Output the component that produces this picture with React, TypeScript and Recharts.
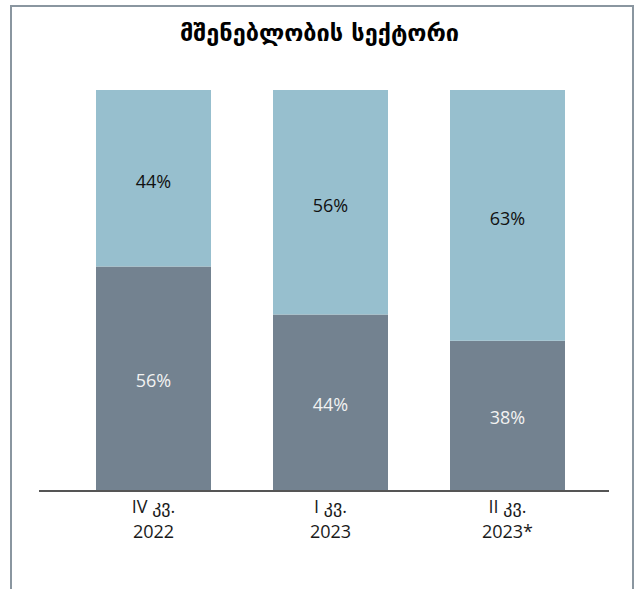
import React from "react";
import { BarChart, Bar, XAxis, YAxis, LabelList } from "recharts";

const title = "მშენებლობის სექტორი";
const quarterLabels = ["IV კვ.", "I კვ.", "II კვ."];
const yearLabels = ["2022", "2023", "2023*"];
const lowerShares = [56, 44, 37.5];
const upperShares = [44, 56, 62.5];

const data = quarterLabels.map((q, i) => ({
  cat: `${q} ${yearLabels[i]}`,
  lower: lowerShares[i],
  upper: upperShares[i],
}));

const FONT = "'Open Sans', 'DejaVu Sans', sans-serif";

const Tick = (props: any) => {
  const { x, y, payload } = props;
  const i = payload.index;
  return (
    <text x={x} y={y} textAnchor="middle" fill="#1a1a1a" fontFamily={FONT} fontSize={18}>
      <tspan x={x} dy={22}>{quarterLabels[i]}</tspan>
      <tspan x={x} dy={25}>{yearLabels[i]}</tspan>
    </text>
  );
};

const fmt = (v: any) => `${Math.round(Number(v))}%`;

export default function App() {
  return (
    <div style={{ position: "fixed", left: 0, top: 0, width: 639, height: 589, overflow: "hidden", background: "#fff" }}>
      <div
        style={{
          position: "absolute",
          left: 10,
          top: 5,
          width: 624,
          height: 700,
          boxSizing: "border-box",
          border: "2px solid #8a96a0",
        }}
      />
      <div
        style={{
          position: "absolute",
          left: 0,
          top: 19,
          width: 639,
          textAlign: "center",
          fontFamily: "'DejaVu Sans', sans-serif",
          fontWeight: "bold",
          fontSize: 23.5,
          lineHeight: "28px",
          color: "#000",
        }}
      >
        {title}
      </div>
      <div style={{ position: "absolute", left: 0, top: 0 }}>
        <BarChart
          width={639}
          height={589}
          data={data}
          margin={{ top: 90, right: 30, bottom: 38, left: 39 }}
          barSize={115}
        >
          <YAxis hide domain={[0, 100]} />
          <XAxis
            dataKey="cat"
            interval={0}
            tickLine={false}
            tickSize={0}
            tickMargin={0}
            height={60}
            padding={{ left: 26, right: 13 }}
            axisLine={{ stroke: "#555555", strokeWidth: 2 }}
            tick={<Tick />}
          />
          <Bar dataKey="lower" stackId="s" fill="#738290" isAnimationActive={false}>
            <LabelList dataKey="lower" position="center" formatter={fmt} fill="#f2f2f2" fontFamily={FONT} fontSize={18} dy={2} />
          </Bar>
          <Bar dataKey="upper" stackId="s" fill="#97bfce" isAnimationActive={false}>
            <LabelList dataKey="upper" position="center" formatter={fmt} fill="#111111" fontFamily={FONT} fontSize={18} dy={3} />
          </Bar>
        </BarChart>
      </div>
    </div>
  );
}
